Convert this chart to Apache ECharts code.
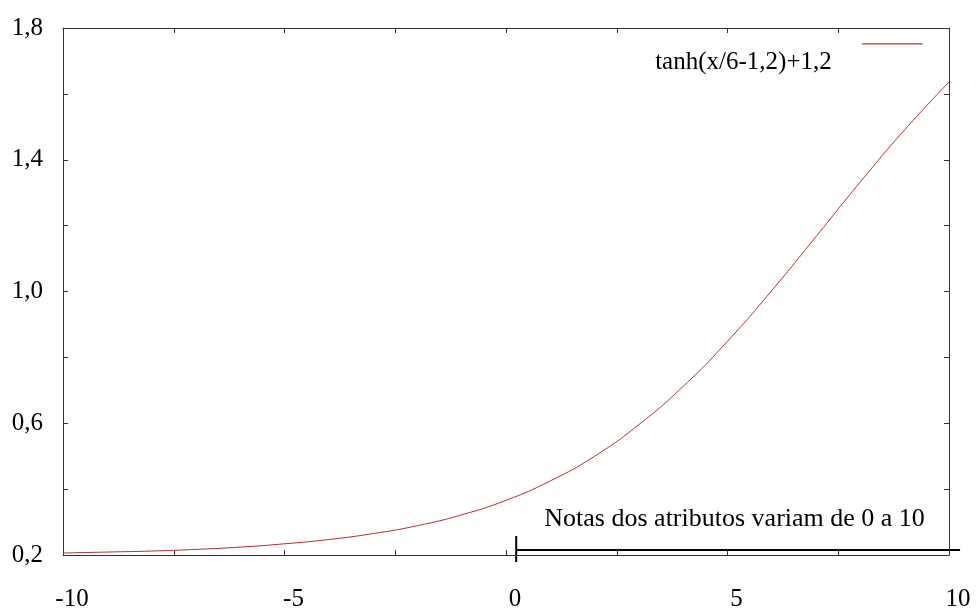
<!DOCTYPE html>
<html>
<head>
<meta charset="utf-8">
<script src="https://cdn.jsdelivr.net/npm/echarts@6/dist/echarts.min.js"></script>
<style>
  html, body { margin: 0; padding: 0; background: #fff; }
  #chart { width: 976px; height: 612px; }
</style>
</head>
<body>
<div id="chart"></div>
<script>
// valores
var xs = [-10, -9, -8, -7, -6, -5, -4, -3, -2, -1, 0, 1, 2, 3, 4, 5, 6, 7, 8, 9, 10];
var ys = [0.206, 0.209, 0.212, 0.217, 0.224, 0.234, 0.247, 0.265, 0.289, 0.322, 0.366,
          0.425, 0.500, 0.596, 0.712, 0.849, 1.003, 1.167, 1.333, 1.491, 1.636];
var seriesName = 'tanh(x/6-1,2)+1,2';
var noteText = 'Notas dos atributos variam de 0 a 10';
var xLabelStep = 5;
var yLabelValues = [0.2, 0.6, 1.0, 1.4, 1.8];

var font = '"Liberation Serif", "DejaVu Serif", "Times New Roman", serif';
var axisColor = '#333';
var lineColor = '#b0302f';

var points = xs.map(function (x, i) { return [x, ys[i]]; });

function xLabel(v) {
    if (Math.abs(v / xLabelStep - Math.round(v / xLabelStep)) > 1e-6) return '';
    return String(Math.round(v));
}
function yLabel(v) {
    for (var i = 0; i < yLabelValues.length; i++) {
        if (Math.abs(v - yLabelValues[i]) < 1e-6) return v.toFixed(1).replace('.', ',');
    }
    return '';
}

function xAxisDef(pos, showLabel) {
    return {
        type: 'value', position: pos, min: -10, max: 10, interval: 2.5,
        axisLine: { show: true, onZero: false, lineStyle: { color: axisColor, width: 1 } },
        axisTick: { show: true, inside: true, length: 5, lineStyle: { color: axisColor } },
        splitLine: { show: false },
        axisLabel: {
            show: showLabel, formatter: xLabel, margin: 32,
            fontFamily: font, fontSize: 25, color: '#000',
            padding: [0, 0, 0, 18]
        }
    };
}
function yAxisDef(pos, showLabel) {
    return {
        type: 'value', position: pos, min: 0.2, max: 1.8, interval: 0.2,
        axisLine: { show: true, onZero: false, lineStyle: { color: axisColor, width: 1 } },
        axisTick: { show: true, inside: true, length: 5, lineStyle: { color: axisColor } },
        splitLine: { show: false },
        axisLabel: {
            show: showLabel, formatter: yLabel, margin: 20,
            fontFamily: font, fontSize: 25, color: '#000',
            padding: [8, 0, 0, 0]
        }
    };
}

var chart = echarts.init(document.getElementById('chart'));
chart.setOption({
    backgroundColor: '#fff',
    animation: false,
    grid: { left: 63, right: 27, top: 28, bottom: 56 },
    xAxis: [xAxisDef('bottom', true), xAxisDef('top', false)],
    yAxis: [yAxisDef('left', true), yAxisDef('right', false)],
    series: [{
        name: seriesName,
        type: 'line',
        xAxisIndex: 0,
        yAxisIndex: 0,
        data: points,
        smooth: true,
        showSymbol: false,
        lineStyle: { color: lineColor, width: 1 }
    }]
});

// legenda e anotação posicionadas pelas coordenadas dos eixos
function px(x, y) { return chart.convertToPixel({ gridIndex: 0 }, [x, y]); }
var legText = px(5.36, 1.694);
var legA = px(8.04, 1.752), legB = px(9.4, 1.752);
var noteA = px(0.23, 0.215), noteB = px(10.25, 0.215);
var noteMid = px(5.16, 0.31);

chart.setOption({
    graphic: [
        {
            type: 'text', x: legText[0], y: legText[1],
            style: { text: seriesName, fontFamily: font, fontSize: 25, fill: '#000',
                     align: 'center', verticalAlign: 'middle' }
        },
        {
            type: 'line', shape: { x1: legA[0], y1: legA[1], x2: legB[0], y2: legB[1] },
            style: { stroke: lineColor, lineWidth: 1.2 }
        },
        {
            type: 'text', x: noteMid[0], y: noteMid[1],
            style: { text: noteText, fontFamily: font, fontSize: 26, fill: '#000',
                     align: 'center', verticalAlign: 'middle' }
        },
        {
            type: 'line', shape: { x1: noteA[0], y1: noteA[1], x2: noteB[0], y2: noteB[1] },
            style: { stroke: '#000', lineWidth: 2 }
        },
        {
            type: 'line', shape: { x1: noteA[0], y1: noteA[1] - 14, x2: noteA[0], y2: noteA[1] + 12 },
            style: { stroke: '#000', lineWidth: 2 }
        }
    ]
});
</script>
</body>
</html>
